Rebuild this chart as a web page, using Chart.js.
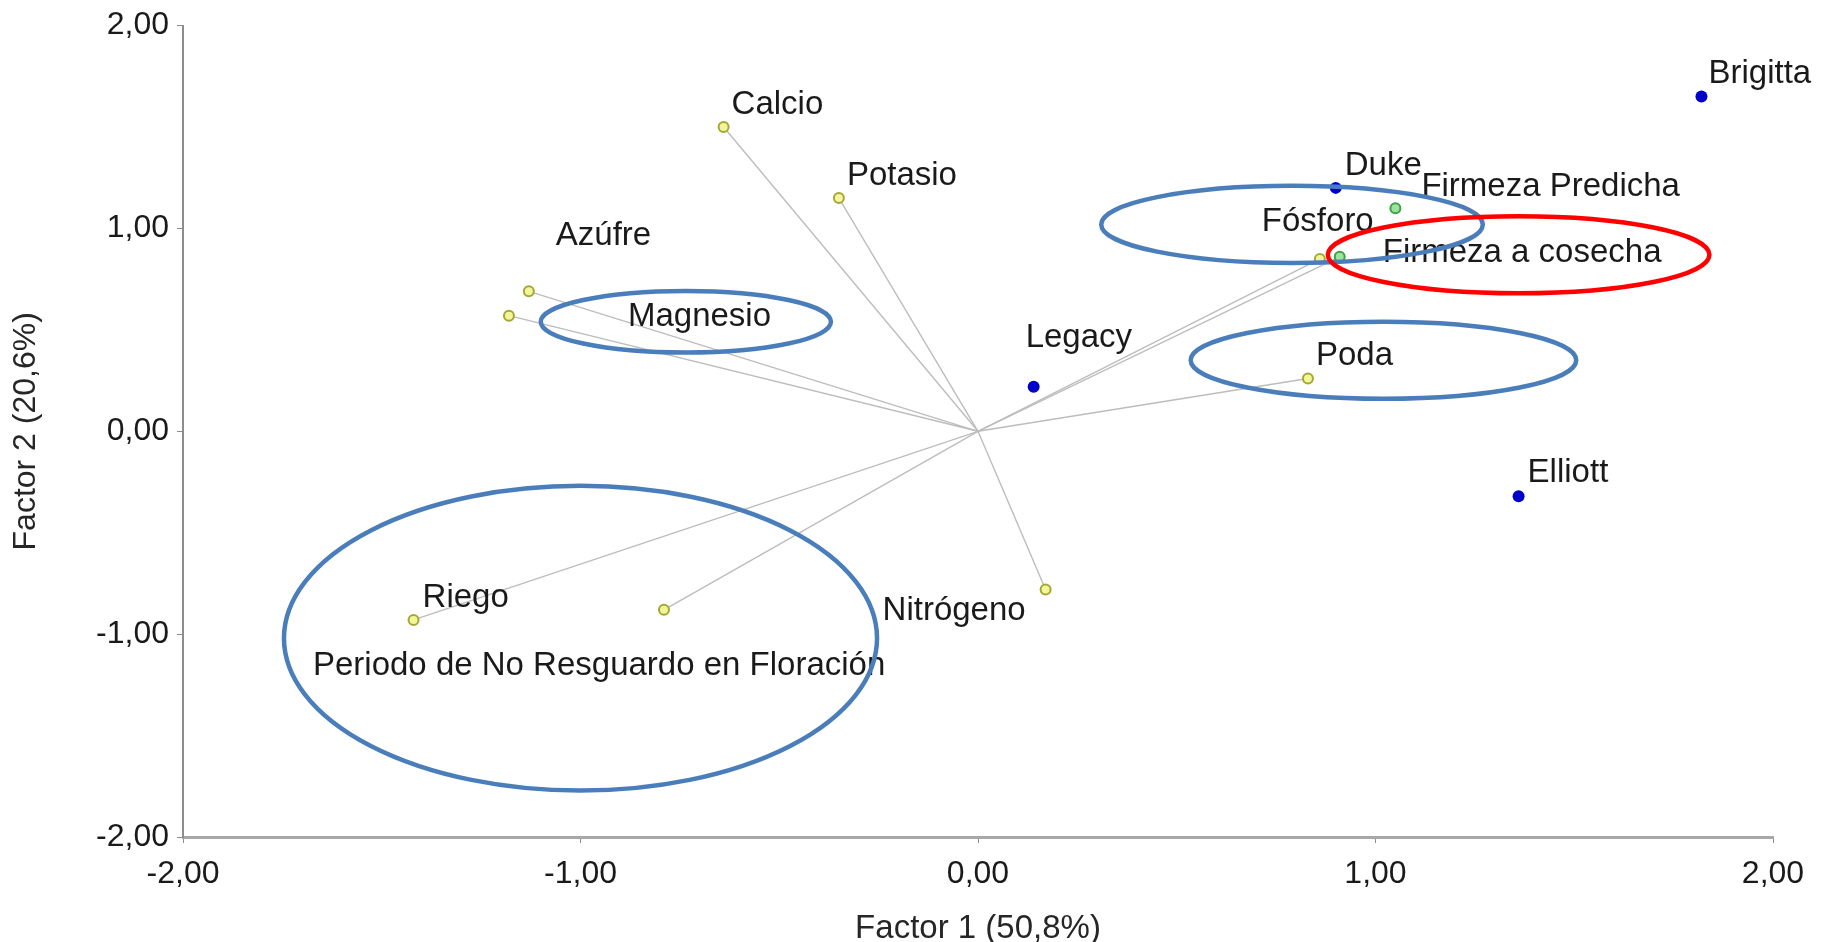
<!DOCTYPE html>
<html>
<head>
<meta charset="utf-8">
<script src="https://cdn.jsdelivr.net/npm/chart.js@4.4.0/dist/chart.umd.min.js"></script>
<style>
html, body { margin: 0; padding: 0; background: #fff; }
#wrap { width: 1823px; height: 942px; }
</style>
</head>
<body>
<div id="wrap"><canvas id="biplot" width="1823" height="942"></canvas></div>
<script>
// cultivares (puntos azules)
const cultivarNames = ['Brigitta', 'Duke', 'Legacy', 'Elliott'];
const cultivarF1 = [1.82, 0.90, 0.14, 1.36];
const cultivarF2 = [1.65, 1.20, 0.22, -0.32];

// variables (circulos amarillos con vector)
const variableNames = ['Calcio', 'Potasio', 'Azúfre', 'Magnesio', 'Fósforo', 'Poda', 'Nitrógeno', 'Riego', 'Periodo de No Resguardo en Floración'];
const variableF1 = [-0.64, -0.35, -1.13, -1.18, 0.86, 0.83, 0.17, -1.42, -0.79];
const variableF2 = [1.50, 1.15, 0.69, 0.57, 0.85, 0.26, -0.78, -0.93, -0.88];

// firmeza (circulos verdes)
const firmezaNames = ['Firmeza Predicha', 'Firmeza a cosecha'];
const firmezaF1 = [1.05, 0.91];
const firmezaF2 = [1.10, 0.86];

// elipses de resaltado (centro y radios en unidades de los ejes)
const ellipseCx = [0.79, 1.36, -0.735, 1.02, -1.00];
const ellipseCy = [1.02, 0.87, 0.54, 0.35, -1.02];
const ellipseRx = [0.48, 0.48, 0.365, 0.485, 0.746];
const ellipseRy = [0.19, 0.19, 0.152, 0.19, 0.751];

const axisTicks = [-2, -1, 0, 1, 2];

function toPoints(xs, ys) {
    return xs.map((x, i) => ({ x: x, y: ys[i] }));
}

function fmt(v) {
    return v.toFixed(2).replace('.', ',');
}

// desplazamiento de cada etiqueta respecto a su punto (px)
const labelOffset = {
    'Brigitta': [7, -23], 'Duke': [9, -22], 'Legacy': [-8, -49], 'Elliott': [9, -23],
    'Calcio': [8, -22], 'Potasio': [8, -22], 'Azúfre': [27, -55], 'Magnesio': [119, 1],
    'Fósforo': [-58, -37], 'Poda': [8, -23], 'Nitrógeno': [-163, 21], 'Riego': [9, -22],
    'Periodo de No Resguardo en Floración': [-351, 56],
    'Firmeza Predicha': [26, -21], 'Firmeza a cosecha': [43, -4]
};
const ellipseColors = ['#4a7ebb', '#ff0000', '#4a7ebb', '#4a7ebb', '#4a7ebb'];

const vectorPlugin = {
    id: 'vectors',
    beforeDatasetsDraw(chart) {
        const ctx = chart.ctx;
        const xs = chart.scales.x, ys = chart.scales.y;
        const ox = xs.getPixelForValue(0), oy = ys.getPixelForValue(0);
        ctx.save();
        ctx.strokeStyle = '#bdbdbd';
        ctx.lineWidth = 1.4;
        const ends = toPoints(variableF1, variableF2).concat([{ x: firmezaF1[1], y: firmezaF2[1] }]);
        ends.forEach(p => {
            ctx.beginPath();
            ctx.moveTo(ox, oy);
            ctx.lineTo(xs.getPixelForValue(p.x), ys.getPixelForValue(p.y));
            ctx.stroke();
        });
        ctx.restore();
    }
};

const labelPlugin = {
    id: 'pointLabels',
    afterDatasetsDraw(chart) {
        const ctx = chart.ctx;
        ctx.save();
        ctx.font = '33px "Liberation Sans", Arial, sans-serif';
        ctx.fillStyle = '#1a1a1a';
        ctx.textAlign = 'left';
        ctx.textBaseline = 'middle';
        chart.data.datasets.forEach((ds, di) => {
            const meta = chart.getDatasetMeta(di);
            meta.data.forEach((el, i) => {
                const name = ds.names[i];
                const off = labelOffset[name] || [6, -20];
                ctx.fillText(name, el.x + off[0], el.y + off[1]);
            });
        });
        ctx.restore();
    }
};

const ellipsePlugin = {
    id: 'ellipses',
    afterDraw(chart) {
        const ctx = chart.ctx;
        const xs = chart.scales.x, ys = chart.scales.y;
        ctx.save();
        ctx.lineWidth = 4.5;
        ellipseCx.forEach((cx, i) => {
            const px = xs.getPixelForValue(cx);
            const py = ys.getPixelForValue(ellipseCy[i]);
            const rx = Math.abs(xs.getPixelForValue(cx + ellipseRx[i]) - px);
            const ry = Math.abs(ys.getPixelForValue(ellipseCy[i] + ellipseRy[i]) - py);
            ctx.strokeStyle = ellipseColors[i];
            ctx.beginPath();
            ctx.ellipse(px, py, rx, ry, 0, 0, Math.PI * 2);
            ctx.stroke();
        });
        ctx.restore();
    }
};

const tickFont = { family: '"Liberation Sans", Arial, sans-serif', size: 32, lineHeight: 1.1 };

new Chart(document.getElementById('biplot'), {
    type: 'scatter',
    data: {
        datasets: [{
            label: 'Variables',
            names: variableNames,
            data: toPoints(variableF1, variableF2),
            pointRadius: 5,
            pointBorderWidth: 2,
            backgroundColor: '#f2f59a',
            borderColor: '#a3a834'
        }, {
            label: 'Firmeza',
            names: firmezaNames,
            data: toPoints(firmezaF1, firmezaF2),
            pointRadius: 5,
            pointBorderWidth: 2,
            backgroundColor: '#9be39b',
            borderColor: '#3f9f4a'
        }, {
            label: 'Cultivares',
            names: cultivarNames,
            data: toPoints(cultivarF1, cultivarF2),
            pointRadius: 6,
            pointBorderWidth: 0,
            backgroundColor: '#0000c8',
            borderColor: '#0000c8'
        }]
    },
    options: {
        responsive: false,
        animation: false,
        layout: { padding: { top: 22, right: 50, bottom: 0, left: 0 } },
        plugins: {
            legend: { display: false },
            tooltip: { enabled: false }
        },
        scales: {
            x: {
                type: 'linear',
                min: -2, max: 2,
                afterBuildTicks: axis => { axis.ticks = axisTicks.map(v => ({ value: v })); },
                afterFit: axis => { axis.height = 105; },
                grid: { display: true, drawOnChartArea: false, drawTicks: true, tickLength: 6, color: '#8c8c8c' },
                border: { display: true, color: '#a8a8a8', width: 3 },
                ticks: { font: tickFont, color: '#1a1a1a', padding: 14, callback: v => fmt(v) },
                title: {
                    display: true, text: 'Factor 1 (50,8%)', color: '#262626',
                    font: { family: '"Liberation Sans", Arial, sans-serif', size: 33, lineHeight: 1 },
                    padding: { top: 0, bottom: -3 }
                }
            },
            y: {
                type: 'linear',
                min: -2, max: 2,
                afterBuildTicks: axis => { axis.ticks = axisTicks.map(v => ({ value: v })); },
                afterFit: axis => { axis.width = 183; },
                grid: { display: true, drawOnChartArea: false, drawTicks: true, tickLength: 6, color: '#8c8c8c' },
                border: { display: true, color: '#8c8c8c', width: 2 },
                ticks: { font: tickFont, color: '#1a1a1a', padding: 8, callback: v => fmt(v) },
                title: {
                    display: true, text: 'Factor 2 (20,6%)', color: '#262626',
                    font: { family: '"Liberation Sans", Arial, sans-serif', size: 32, lineHeight: 1 },
                    padding: { top: 10, bottom: 0 }
                }
            }
        }
    },
    plugins: [vectorPlugin, labelPlugin, ellipsePlugin]
});
</script>
</body>
</html>
